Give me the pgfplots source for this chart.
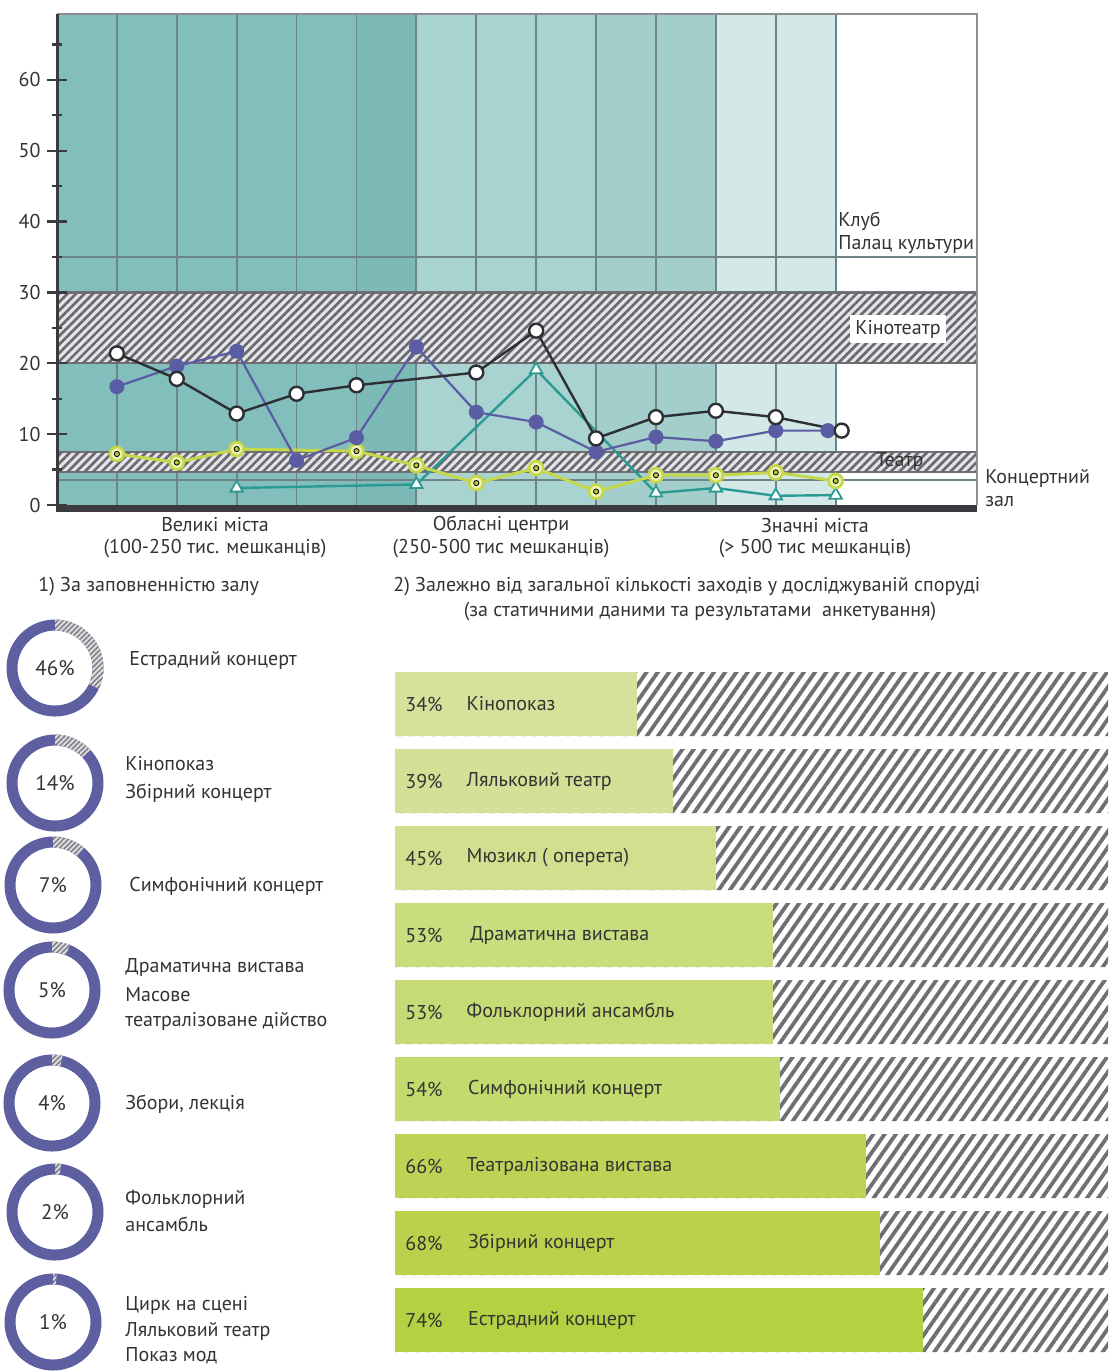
\documentclass[border=0pt]{standalone}
\usepackage{fontspec}
\setmainfont{PT Sans}
\usepackage{pgfplots}
\pgfplotsset{compat=1.18}
\usetikzlibrary{patterns.meta}
\definecolor{tealA}{HTML}{82BEBB}
\definecolor{tealAb}{HTML}{7DBAB7}
\definecolor{tealB}{HTML}{A9D3D0}
\definecolor{tealBb}{HTML}{A3CECB}
\definecolor{tealC}{HTML}{D3E9E7}
\definecolor{gridc}{HTML}{6E8486}
\definecolor{bandbg}{HTML}{E4E4E8}
\definecolor{bandhatch}{HTML}{68686E}
\definecolor{bandborder}{HTML}{707075}
\definecolor{framec}{HTML}{8C8C92}
\definecolor{axdark}{HTML}{3A3A3F}
\definecolor{lblack}{HTML}{2E2F33}
\definecolor{lpurple}{HTML}{5A5DA3}
\definecolor{lyellow}{HTML}{C5D84A}
\definecolor{lyellowfill}{HTML}{EEF3B8}
\definecolor{lyellowdot}{HTML}{B4C93A}
\definecolor{lteal}{HTML}{2B9A93}
\definecolor{txt}{HTML}{333333}
\definecolor{donutc}{HTML}{5E5FA0}
\definecolor{donuthatchbg}{HTML}{DCDCE0}
\definecolor{donuthatch}{HTML}{7A7A80}
\definecolor{hatchc}{HTML}{6E6E73}
\definecolor{gA}{HTML}{D5E29B}
\definecolor{gB}{HTML}{D3E196}
\definecolor{gC}{HTML}{D0E08F}
\definecolor{gD}{HTML}{C9DC7E}
\definecolor{gE}{HTML}{C6DA76}
\definecolor{gF}{HTML}{C4D96E}
\definecolor{gG}{HTML}{BCD355}
\definecolor{gH}{HTML}{BAD24B}
\definecolor{gI}{HTML}{B6D044}
\newcommand\ft{\fontsize{10}{12}\selectfont}
\newcommand\donut[4]{% cx, cy, hatch fraction, label
  \draw[donutc, line width=5.5pt] (axis cs:#1,#2) circle[radius=21.5pt];
  \path[fill=donuthatchbg, postaction={pattern={Lines[angle=45,distance=1.8pt,line width=0.7pt]}, pattern color=donuthatch}]
    (axis cs:#1,#2) ++(90:24.25pt) arc[start angle=90, end angle={90-360*#3}, radius=24.25pt]
    -- ++({90-360*#3}:-5.5pt) arc[start angle={90-360*#3}, end angle=90, radius=18.75pt] -- cycle;
  \node[text=txt, font=\fontsize{10.5}{12}\selectfont] at (axis cs:#1,#2) {#4};
}
\begin{document}
\begin{tikzpicture}
\path[use as bounding box] (0,0) rectangle (556pt,-685.5pt);

% ---------------- line chart ----------------
\begin{axis}[at={(28.5pt,-252.5pt)}, anchor=south west, scale only axis,
  width=460pt, height=245.5pt, xmin=0, xmax=15.36, ymin=0, ymax=69.3,
  clip=false, axis on top, axis x line=none, axis y line*=left,
  y axis line style={line width=1.5pt, draw=axdark},
  ytick={0,10,...,60}, minor ytick={5,15,...,65},
  tick align=center, major tick length=9.5pt, minor tick length=5pt,
  tick style={line width=1.1pt, draw=axdark},
  yticklabel style={font=\ft, text=txt},
  /pgf/number format/assume math mode=true]
\fill[tealA] (axis cs:0,0) rectangle (axis cs:5,69.3);
\fill[tealAb] (axis cs:5,0) rectangle (axis cs:6,69.3);
\fill[tealB] (axis cs:6,0) rectangle (axis cs:9,69.3);
\fill[tealBb] (axis cs:9,0) rectangle (axis cs:11,69.3);
\fill[tealC] (axis cs:11,0) rectangle (axis cs:13,69.3);
\pgfplotsinvokeforeach{1,...,13}{\draw[gridc, line width=0.9pt] (axis cs:#1,0) -- (axis cs:#1,69.3);}
\draw[gridc, line width=0.9pt] (axis cs:0,35) -- (axis cs:15.36,35);
\draw[gridc, line width=0.9pt] (axis cs:0,3.5) -- (axis cs:15.36,3.5);
\draw[bandborder, line width=1.1pt, fill=bandbg, postaction={pattern={Lines[angle=45,distance=3pt,line width=1.3pt]}, pattern color=bandhatch}] (axis cs:0,20) rectangle (axis cs:15.36,30);
\draw[bandborder, line width=1.1pt, fill=bandbg, postaction={pattern={Lines[angle=45,distance=3pt,line width=1.3pt]}, pattern color=bandhatch}] (axis cs:0,4.7) rectangle (axis cs:15.36,7.5);
\draw[framec, line width=1pt] (axis cs:0,69.3) -- (axis cs:15.36,69.3) -- (axis cs:15.36,0);
\fill[axdark] (axis cs:-0.02,0) rectangle (axis cs:15.36,-0.95);
\node[fill=white, inner sep=2.5pt, text=txt, font=\ft] at (axis cs:14.04,24.8) {Кінотеатр};
\node[text=txt, font=\ft] at (axis cs:14.07,6.1) {Театр};

\addplot[lteal, line width=1.2pt, mark=triangle*, mark size=3.6pt, mark options={fill=white, draw=lteal, line width=0.9pt}]
 coordinates {(3,2.4) (6,2.9) (8,19.1) (10,1.7) (11,2.4) (12,1.3) (13,1.4)};
\addplot[lyellow, line width=1.5pt, mark=*, mark size=3.5pt, mark options={fill=lyellowfill, draw=lyellow, line width=1.3pt}]
 coordinates {(1,7.2) (2,6.0) (3,7.9) (5,7.6) (6,5.6) (7,3.1) (8,5.2) (9,1.9) (10,4.2) (11,4.2) (12,4.6) (13,3.4)};
\addplot[only marks, mark=*, mark size=1.3pt, mark options={fill=lyellowdot, draw=none}]
 coordinates {(1,7.2) (2,6.0) (3,7.9) (5,7.6) (6,5.6) (7,3.1) (8,5.2) (9,1.9) (10,4.2) (11,4.2) (12,4.6) (13,3.4)};
\addplot[lpurple, line width=1.1pt, mark=*, mark size=3.2pt, mark options={fill=lpurple, draw=lpurple}]
 coordinates {(1,16.7) (2,19.6) (3,21.7) (4,6.3) (5,9.5) (6,22.3) (7,13.1) (8,11.7) (9,7.5) (10,9.6) (11,9.0) (12,10.5) (12.87,10.5)};
\addplot[lblack, line width=1.2pt, mark=*, mark size=3.5pt, mark options={fill=white, draw=lblack, line width=1.2pt}]
 coordinates {(1,21.4) (2,17.8) (3,12.9) (4,15.7) (5,16.9) (7,18.7) (8,24.6) (9,9.4) (10,12.4) (11,13.3) (12,12.4) (13.1,10.5)};
\end{axis}

% ---------------- horizontal bars ----------------
\begin{axis}[at={(197.5pt,-679.25pt)}, anchor=south west, scale only axis,
  width=356.5pt, height=346.5pt, xmin=0, xmax=100, ymin=0.5, ymax=9.5,
  y dir=reverse, hide axis, xbar, bar width=32pt, bar shift=0pt, clip=false]
\addplot[draw=none, fill=white, postaction={pattern={Lines[angle=55,distance=4.6pt,line width=1.9pt]}, pattern color=hatchc}]
 coordinates {(100,1) (100,2) (100,3) (100,4) (100,5) (100,6) (100,7) (100,8) (100,9)};
\addplot[draw=none, fill=gA] coordinates {(34,1)};
\addplot[draw=none, fill=gB] coordinates {(39,2)};
\addplot[draw=none, fill=gC] coordinates {(45,3)};
\addplot[draw=none, fill=gD] coordinates {(53,4)};
\addplot[draw=none, fill=gE] coordinates {(53,5)};
\addplot[draw=none, fill=gF] coordinates {(54,6)};
\addplot[draw=none, fill=gG] coordinates {(66,7)};
\addplot[draw=none, fill=gH] coordinates {(68,8)};
\addplot[draw=none, fill=gI] coordinates {(74,9)};
\begin{scope}[every node/.style={anchor=west, text=txt, font=\ft, inner sep=0pt}]
\node at (axis cs:1.4,1) {34\%}; \node at (axis cs:10.0,1) {Кінопоказ};
\node at (axis cs:1.4,2) {39\%}; \node at (axis cs:10.0,2) {Ляльковий театр};
\node at (axis cs:1.4,3) {45\%}; \node at (axis cs:10.0,3) {Мюзикл ( оперета)};
\node at (axis cs:1.4,4) {53\%}; \node at (axis cs:10.5,4) {Драматична вистава};
\node at (axis cs:1.4,5) {53\%}; \node at (axis cs:10.0,5) {Фольклорний ансамбль};
\node at (axis cs:1.4,6) {54\%}; \node at (axis cs:10.2,6) {Симфонічний концерт};
\node at (axis cs:1.4,7) {66\%}; \node at (axis cs:10.0,7) {Театралізована вистава};
\node at (axis cs:1.4,8) {68\%}; \node at (axis cs:10.2,8) {Збірний концерт};
\node at (axis cs:1.4,9) {74\%}; \node at (axis cs:10.2,9) {Естрадний концерт};
\end{scope}
\end{axis}

% ---------------- donuts ----------------
\begin{axis}[at={(0pt,-685.5pt)}, anchor=south west, scale only axis,
  width=556pt, height=685.5pt, xmin=0, xmax=1112, ymin=0, ymax=1371,
  y dir=reverse, hide axis, clip=false]
\donut{55}{668}{0.32}{46\%}
\donut{55}{783}{0.13}{14\%}
\donut{53}{885}{0.11}{7\%}
\donut{52}{990}{0.06}{5\%}
\donut{52}{1103}{0.035}{4\%}
\donut{55}{1212}{0.02}{2\%}
\donut{53}{1322}{0.012}{1\%}
\end{axis}

% ---------------- texts ----------------
\begin{scope}[x=0.5pt, y=-0.5pt, every node/.style={text=txt, font=\ft, inner sep=0pt}]
\node[anchor=west] at (838,221) {Клуб};
\node[anchor=west] at (838,245) {Палац культури};
\node[anchor=west] at (985,478) {Концертний};
\node[anchor=west] at (985,502) {зал};
\node at (215,525) {Великі міста};
\node at (215,549) {(100-250 тис. мешканців)};
\node at (501,525) {Обласні центри};
\node at (501,549) {(250-500 тис мешканців)};
\node at (815,525) {Значні міста};
\node at (815,549) {(> 500 тис мешканців)};
\node[anchor=west] at (38,587) {1) За заповненністю залу};
\node[anchor=west] at (393,587) {2) Залежно від загальної кількості заходів у досліджуваній споруді};
\node at (700,612) {(за статичними даними та результатами \ анкетування)};
\begin{scope}[every node/.style={anchor=west, text=txt, font=\ft, inner sep=0pt}]
\node at (129,660) {Естрадний концерт};
\node at (125,764) {Кінопоказ};
\node at (125,793) {Збірний концерт};
\node at (129,886) {Симфонічний концерт};
\node at (125,967) {Драматична вистава};
\node at (125,995) {Масове};
\node at (125,1021) {театралізоване дійство};
\node at (125,1104) {Збори, лекція};
\node at (125,1199) {Фольклорний};
\node at (125,1224) {ансамбль};
\node at (125,1305) {Цирк на сцені};
\node at (125,1331) {Ляльковий театр};
\node at (125,1356) {Показ мод};
\end{scope}
\end{scope}
\end{tikzpicture}
\end{document}
